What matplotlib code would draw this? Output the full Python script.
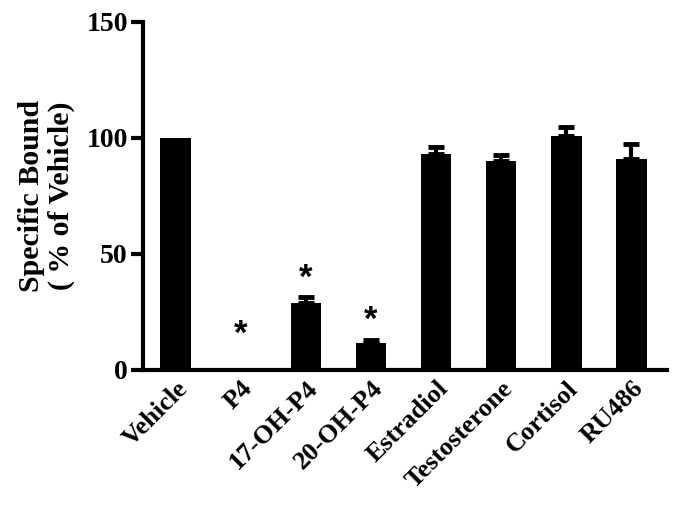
import matplotlib
matplotlib.use("Agg")
import matplotlib.pyplot as plt
import numpy as np

# data
labels = ["Vehicle", "P4", "17-OH-P4", "20-OH-P4", "Estradiol",
          "Testosterone", "Cortisol", "RU486"]
values = [100, 0, 28.7, 11.5, 93.2, 90.0, 101.0, 91.0]
errors = [0, 0, 2.9, 1.4, 2.9, 2.7, 3.8, 6.3]
star_y = [None, 15.5, 39.5, 21.5, None, None, None, None]

plt.rcParams['font.family'] = ['Liberation Serif', 'DejaVu Serif']
plt.rcParams['font.weight'] = 'bold'

fig = plt.figure(figsize=(6.85, 5.08), dpi=100)
ax = fig.add_axes([0.209, 0.272, 0.765, 0.685])

x = np.arange(len(labels))
ax.bar(x, values, width=0.47, color='black', zorder=2)
for i in range(len(x)):
    if errors[i] > 0:
        ax.errorbar(x[i], values[i], yerr=[[0], [errors[i]]], fmt='none',
                    ecolor='black', elinewidth=3, capsize=6, capthick=3.5, zorder=3)

for i, sy in enumerate(star_y):
    if sy is not None:
        ax.text(x[i], sy, '*', ha='center', va='center', fontsize=25,
                family='Liberation Sans', fontweight='bold')

ax.set_xlim(-0.5, 7.55)
ax.set_ylim(0, 150)
ax.set_yticks([0, 50, 100, 150])
ax.set_xticks(x)
ax.set_xticklabels(labels, rotation=45, ha='right', rotation_mode='anchor',
                   fontsize=19, fontweight='bold')
ax.tick_params(axis='y', labelsize=20, width=3, length=9, pad=2)
ax.tick_params(axis='x', length=0, pad=5)
for lab in ax.get_yticklabels():
    lab.set_fontweight('bold')

ax.spines['top'].set_visible(False)
ax.spines['right'].set_visible(False)
ax.spines['left'].set_linewidth(3)
ax.spines['bottom'].set_linewidth(3)

ax.set_ylabel("Specific Bound\n( % of Vehicle)", fontsize=21.5, fontweight='bold',
              labelpad=8, linespacing=1.15)

fig.savefig("out.png", dpi=100)
